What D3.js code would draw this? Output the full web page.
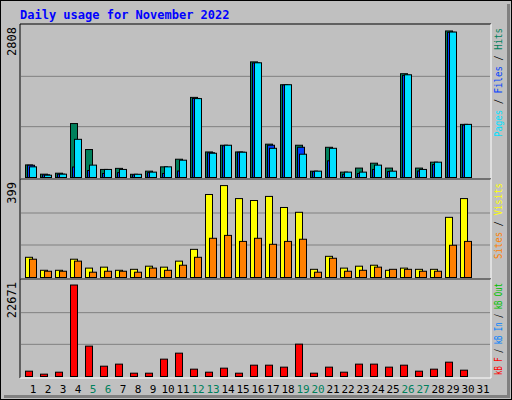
<!DOCTYPE html>
<html><head><meta charset="utf-8">
<script src="https://cdn.jsdelivr.net/npm/d3@7"></script>
<style>body{margin:0;background:#fff}</style>
</head><body>
<svg id="chart" width="512" height="400"></svg>
<script>
const days = d3.range(1, 32);
const weekends = [5, 6, 12, 13, 19, 20, 26, 27];
const hits  = [234,62,80,1003,520,150,170,60,118,198,340,1490,475,600,475,2150,620,1725,600,118,562,100,175,266,175,1930,175,285,2725,988,0];
const files = [228,50,62,195,130,75,90,50,90,75,120,1470,460,590,470,2130,600,1720,562,110,310,60,75,150,110,1900,120,240,2700,975,0];
const pages = [198,43,62,710,230,150,150,60,100,198,322,1467,451,600,470,2133,543,1725,433,118,543,100,100,230,118,1910,150,285,2705,988,0];
const visits = [84,30,30,76,39,43,30,34,47,43,68,117,345,382,328,320,337,291,271,34,88,39,47,51,30,39,34,34,250,328,0];
const sites  = [76,26,26,68,22,26,26,22,39,30,51,84,163,175,150,163,138,150,159,22,80,26,30,43,34,34,26,26,134,150,0];
const kbytes = [1270,560,1030,21830,7250,2460,2950,790,790,4140,5570,1750,1030,1990,790,2700,2700,2230,7720,790,2230,1030,2950,2950,2230,2700,1270,1750,3420,1510,0];

const svg = d3.select("#chart");
const font = "DejaVu Sans Mono, monospace";

// background frame with shadow
svg.append("rect").attr("width", 512).attr("height", 400).attr("fill", "#000");
svg.append("rect").attr("x", 1).attr("y", 1).attr("width", 510).attr("height", 398).attr("fill", "#C0C0C0");
svg.append("path").attr("d", "M507,4V395H4V398H510V4Z").attr("fill", "#808080");

svg.append("text").attr("x", 20).attr("y", 19).attr("fill", "#0000FF")
  .attr("font-family", font).attr("font-weight", "bold").attr("font-size", 12)
  .text("Daily usage for November 2022");

const x = d3.scaleLinear().domain([1, 32]).range([25, 490]);

const panels = [
  {top: 25, bottom: 177, max: 2808, len: 109, series: [[hits, "#00805C", 0], [files, "#0040FF", 2], [pages, "#00E0FF", 4]],
   labels: [["Pages", "#00E0FF"], [" / ", "#000"], ["Files", "#0040FF"], [" / ", "#000"], ["Hits", "#00805C"]]},
  {top: 180, bottom: 277, max: 399, len: 76, series: [[visits, "#FFFF00", 0], [sites, "#FF8000", 4]],
   labels: [["Sites", "#FF8000"], [" / ", "#000"], ["Visits", "#FFFF00"]]},
  {top: 280, bottom: 376, max: 22671, len: 92, series: [[kbytes, "#FF0000", 0]],
   labels: [["kB F", "#FF0000"], [" / ", "#000"], ["kB In", "#0080FF"], [" / ", "#000"], ["kB Out", "#00C000"]]}
];

panels.forEach(p => {
  const y = d3.scaleLinear().domain([0, p.max]).range([p.bottom, p.top + 1]);
  const g = svg.append("g");
  // inset border
  g.append("path").attr("d", `M20,${p.bottom + 2}V${p.top - 1}H491`).attr("stroke", "#000").attr("fill", "none");
  g.append("path").attr("d", `M491,${p.top - 1}V${p.bottom + 2}H20`).attr("stroke", "#fff").attr("fill", "none");
  // gridlines
  [1, 2].forEach(k => {
    g.append("line").attr("x1", 21).attr("x2", 490)
      .attr("y1", y(p.max * k / 3)).attr("y2", y(p.max * k / 3))
      .attr("stroke", "#808080");
  });
  p.series.forEach(([vals, color, off]) => {
    g.selectAll(null).data(vals.map((v, i) => ({v, d: days[i]})).filter(d => d.v > 0))
      .join("rect")
      .attr("x", d => x(d.d) + off + 0.5)
      .attr("y", d => y(d.v) + 0.5)
      .attr("width", 7)
      .attr("height", d => p.bottom - y(d.v))
      .attr("fill", color).attr("stroke", "#000");
  });
  // max label on the left
  svg.append("text").attr("transform", `translate(16,${p.top + 2}) rotate(-90)`)
    .attr("text-anchor", "end").attr("font-family", font).attr("font-size", 12)
    .text(p.max);
  // legend on the right, reading upward from the panel top
  const t = svg.append("text").attr("transform", `translate(502,${p.top + 3 + p.len}) rotate(-90)`)
    .attr("font-family", font).attr("font-size", 10)
    .attr("textLength", p.len).attr("lengthAdjust", "spacingAndGlyphs")
    .attr("xml:space", "preserve");
  p.labels.forEach(([s, c]) => t.append("tspan").attr("fill", c).text(s));
});

svg.selectAll(".day").data(days).join("text")
  .attr("x", d => x(d) + 8).attr("y", 393)
  .attr("text-anchor", "middle").attr("font-family", font).attr("font-size", 11)
  .attr("fill", d => weekends.includes(d) ? "#00805C" : "#000")
  .text(d => d);
</script>
</body></html>
